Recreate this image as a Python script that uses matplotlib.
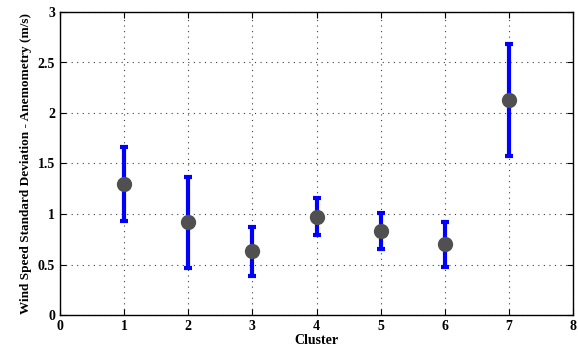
import matplotlib
matplotlib.use('Agg')
import matplotlib.pyplot as plt
import numpy as np

# cluster means and error bar limits
cluster = [1, 2, 3, 4, 5, 6, 7]
mean_sd = [1.30, 0.92, 0.63, 0.97, 0.83, 0.70, 2.13]
upper = [1.66, 1.37, 0.87, 1.16, 1.01, 0.92, 2.68]
lower = [0.93, 0.47, 0.39, 0.79, 0.65, 0.48, 1.57]

plt.rcParams['font.family'] = 'Liberation Serif'
plt.rcParams['font.weight'] = 'bold'

fig = plt.figure(figsize=(5.78, 3.54), dpi=100)
ax = fig.add_axes([60/578, 39/354, 513/578, 303/354])

m = np.array(mean_sd)
yerr = [m - np.array(lower), np.array(upper) - m]
ax.errorbar(cluster, mean_sd, yerr=yerr, fmt='none', ecolor='#0000ff',
            elinewidth=3, capsize=3, capthick=3, zorder=2)
ax.plot(cluster, mean_sd, 'o', color='#505050', markersize=10, zorder=3)

ax.set_xlim(0, 8)
ax.set_ylim(0, 3)
ax.set_xticks(range(0, 9))
ax.set_yticks([0, 0.5, 1, 1.5, 2, 2.5, 3])
ax.set_yticklabels(['0', '0.5', '1', '1.5', '2', '2.5', '3'])
ax.grid(True, linestyle=(0, (1, 4)), color='#404040', linewidth=0.8)
ax.tick_params(direction='in', top=True, right=True, labelsize=10, length=4)
for s in ax.spines.values():
    s.set_linewidth(1)

ax.set_xlabel('Cluster', fontsize=10, fontweight='bold', labelpad=1)
ax.set_ylabel('Wind Speed Standard Deviation - Anemometry (m/s)', fontsize=9.5,
              fontweight='bold', labelpad=4)

fig.savefig('out.png', dpi=100)
